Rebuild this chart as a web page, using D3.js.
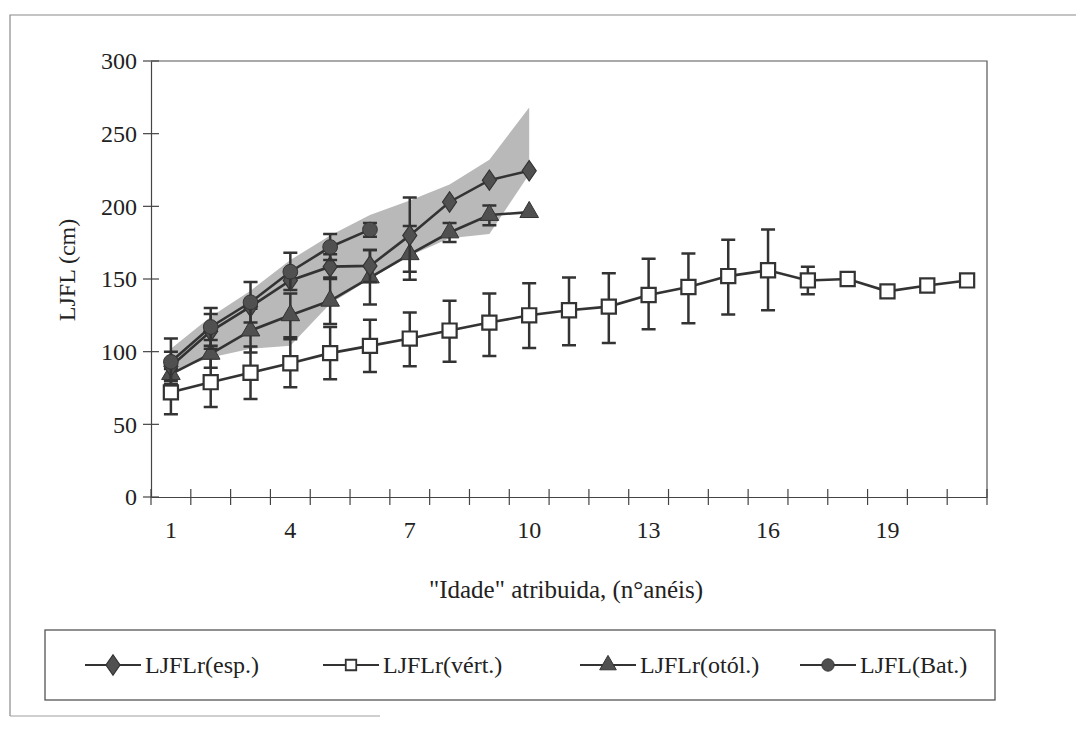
<!DOCTYPE html>
<html lang="pt">
<head>
<meta charset="UTF-8">
<title>LJFL por idade</title>
<script src="https://d3js.org/d3.v7.min.js"></script>
<style>
  body { margin: 0; background: #fff; }
  svg { display: block; }
  svg text { font-family: "Liberation Serif", "Tinos", "Nimbus Roman", "FreeSerif", "Noto Serif", "DejaVu Serif", "Liberation Sans", sans-serif; }
</style>
</head>
<body>
<svg id="chart" width="1076" height="729"></svg>
<script>
// idades (categorias do eixo x)
const ages = d3.range(1, 22);

// LJFLr(esp.) - losangos
const espVals = [90, 114, 131, 149, 158.5, 159, 180, 203, 218, 224.5];
const espLo   = [80, 102, null, null, 150, 148, 155, null, null, null];
const espHi   = [100, 126, null, null, 167, 170, 206, null, null, null];

// LJFLr(vért.) - quadrados
const vertVals = [72, 79, 85.5, 92, 99, 104, 109, 114.5, 120, 125, 128.5, 131, 139, 144.5, 152, 156, 149, 150, 141.5, 145.5, 149];
const vertLo   = [57, 62, 67.5, 75.5, 81, 86, 90, 93, 97, 102.5, 104.5, 106, 115.5, 119.5, 125.5, 128.5, 139.5, null, null, null, null];
const vertHi   = [88, 95.5, 103.5, 108.5, 117, 122, 127, 135, 140, 147, 151, 154, 164, 167.5, 177, 184, 158.5, null, null, null, null];

// LJFLr(otól.) - triângulos
const otolVals = [84.5, 98.5, 114.5, 125, 135, 151, 167, 182, 194, 196];
const otolLo   = [77, 89, 99.5, 110, 119, 132.5, 149.5, 175.5, 187, null];
const otolHi   = [92, 108, 129.5, 140, 151, 170, 186.5, 188.5, 200.5, null];

// LJFL(Bat.) - círculos
const batVals = [93, 117, 134, 155, 172, 184];
const batLo   = [78, 104, 120, 142.5, 163, 179];
const batHi   = [109, 130, 148, 168, 181, 188.5];

// faixa cinzenta (idades 1-10)
const bandLo = [86, 96, 102, 104, 133, 150, 166, 178, 181, 222];
const bandHi = [102, 124, 142, 163, 180, 194, 204, 215, 232, 268];

const yTicks = [0, 50, 100, 150, 200, 250, 300];
const xLabels = [1, 4, 7, 10, 13, 16, 19];

const svg = d3.select("#chart");
const pLeft = 151, pRight = 987, pTop = 61, pBottom = 497;

const x = d3.scaleBand().domain(ages).range([pLeft, pRight]);
const cx = a => x(a) + x.bandwidth() / 2;
const y = d3.scaleLinear().domain([0, 300]).range([pBottom, pTop]);

const dark = "#333", markFill = "#505050";

// moldura exterior
svg.append("path")
    .attr("d", "M10,716 L10,15 L1076,15")
    .attr("fill", "none").attr("stroke", "#8a8a8a").attr("stroke-width", 1.2);
svg.append("line")
    .attr("x1", 10).attr("x2", 380).attr("y1", 716).attr("y2", 716)
    .attr("stroke", "#a0a0a0").attr("stroke-width", 1.2);

// área do gráfico
svg.append("path")
    .attr("d", `M${pLeft},${pTop} L${pRight},${pTop} L${pRight},${pBottom}`)
    .attr("fill", "none").attr("stroke", "#555").attr("stroke-width", 1.2);

// faixa
const band = ages.slice(0, 10).map((a, i) => ({a, lo: bandLo[i], hi: bandHi[i]}));
svg.append("path")
    .datum(band)
    .attr("d", d3.area().x(d => cx(d.a)).y0(d => y(d.lo)).y1(d => y(d.hi)))
    .attr("fill", "#b9b9b9");

// eixos
const yAxis = svg.append("g").attr("transform", `translate(${pLeft},0)`)
    .call(d3.axisLeft(y).tickValues(yTicks).tickSize(0).tickPadding(14));
yAxis.attr("font-family", null);
yAxis.select(".domain").attr("stroke", "#444").attr("stroke-width", 1.2);
yAxis.selectAll("text").attr("font-size", 24).attr("fill", "#222");
svg.append("g").selectAll("line").data(yTicks).join("line")
    .attr("x1", pLeft - 8).attr("x2", pLeft + 8)
    .attr("y1", d => y(d)).attr("y2", d => y(d))
    .attr("stroke", "#444").attr("stroke-width", 1.2);

const xAxis = svg.append("g").attr("transform", `translate(0,${pBottom})`)
    .call(d3.axisBottom(x).tickValues(xLabels).tickSize(0).tickPadding(24));
xAxis.attr("font-family", null);
xAxis.select(".domain").attr("stroke", "#444").attr("stroke-width", 1.2);
xAxis.selectAll("text").attr("font-size", 24).attr("fill", "#222");
const bounds = ages.map(a => x(a)).concat([pRight]);
svg.append("g").selectAll("line").data(bounds).join("line")
    .attr("x1", d => d).attr("x2", d => d)
    .attr("y1", pBottom - 8).attr("y2", pBottom + 8)
    .attr("stroke", "#444").attr("stroke-width", 1.2);

svg.append("text")
    .attr("x", 566).attr("y", 598).attr("text-anchor", "middle")
    .attr("font-size", 25).attr("fill", "#222")
    .text("\"Idade\" atribuida, (n°anéis)");
svg.append("text")
    .attr("transform", "translate(75,270) rotate(-90)")
    .attr("text-anchor", "middle").attr("font-size", 24).attr("fill", "#222")
    .text("LJFL (cm)");

// séries
const series = [
  {vals: vertVals, lo: vertLo, hi: vertHi, sym: d3.symbolSquare, size: 200, fill: "#fff", sw: 2.2},
  {vals: otolVals, lo: otolLo, hi: otolHi, sym: d3.symbolTriangle, size: 150, fill: markFill, sw: 1},
  {vals: espVals, lo: espLo, hi: espHi, sym: d3.symbolDiamond, size: 120, fill: markFill, sw: 1, sx: 1.2},
  {vals: batVals, lo: batLo, hi: batHi, sym: d3.symbolCircle, size: 170, fill: markFill, sw: 1}
];

const line = d3.line().x(d => cx(d.a)).y(d => y(d.v));

series.forEach(s => {
  const pts = s.vals.map((v, i) => ({a: ages[i], v, lo: s.lo[i], hi: s.hi[i]}));
  const g = svg.append("g");
  const eb = pts.filter(d => d.lo != null);
  g.selectAll(".eb").data(eb).join("path")
      .attr("d", d => `M${cx(d.a)},${y(d.lo)}V${y(d.hi)}M${cx(d.a) - 7},${y(d.lo)}h14M${cx(d.a) - 7},${y(d.hi)}h14`)
      .attr("fill", "none").attr("stroke", dark).attr("stroke-width", 2.5);
  g.append("path").datum(pts).attr("d", line)
      .attr("fill", "none").attr("stroke", dark).attr("stroke-width", 2.6);
  g.selectAll(".m").data(pts).join("path")
      .attr("transform", d => `translate(${cx(d.a)},${y(d.v)}) scale(${s.sx || 1},1)`)
      .attr("d", d3.symbol().type(s.sym).size(s.size))
      .attr("fill", s.fill).attr("stroke", dark).attr("stroke-width", s.sw);
});

// legenda
svg.append("rect")
    .attr("x", 45).attr("y", 630).attr("width", 950).attr("height", 70)
    .attr("fill", "none").attr("stroke", "#555").attr("stroke-width", 1.3);
const legNames = ["LJFLr(esp.)", "LJFLr(vért.)", "LJFLr(otól.)", "LJFL(Bat.)"];
const legX = [85, 323, 580, 800];
const legSeries = [series[2], series[0], series[1], series[3]];
const leg = svg.append("g").selectAll("g").data(legNames).join("g")
    .attr("transform", (d, i) => `translate(${legX[i]},665)`);
leg.append("line").attr("x1", 0).attr("x2", 56)
    .attr("stroke", dark).attr("stroke-width", 2.2);
leg.append("path")
    .attr("transform", (d, i) => `translate(28,0) scale(${legSeries[i].sx || 1},1)`)
    .attr("d", (d, i) => d3.symbol().type(legSeries[i].sym).size(i === 1 ? 110 : 120)())
    .attr("fill", (d, i) => legSeries[i].fill)
    .attr("stroke", dark).attr("stroke-width", (d, i) => i === 1 ? 1.8 : 1);
leg.append("text").attr("x", 60).attr("dy", "0.35em")
    .attr("font-size", 24).attr("fill", "#222").text(d => d);
</script>
</body>
</html>
